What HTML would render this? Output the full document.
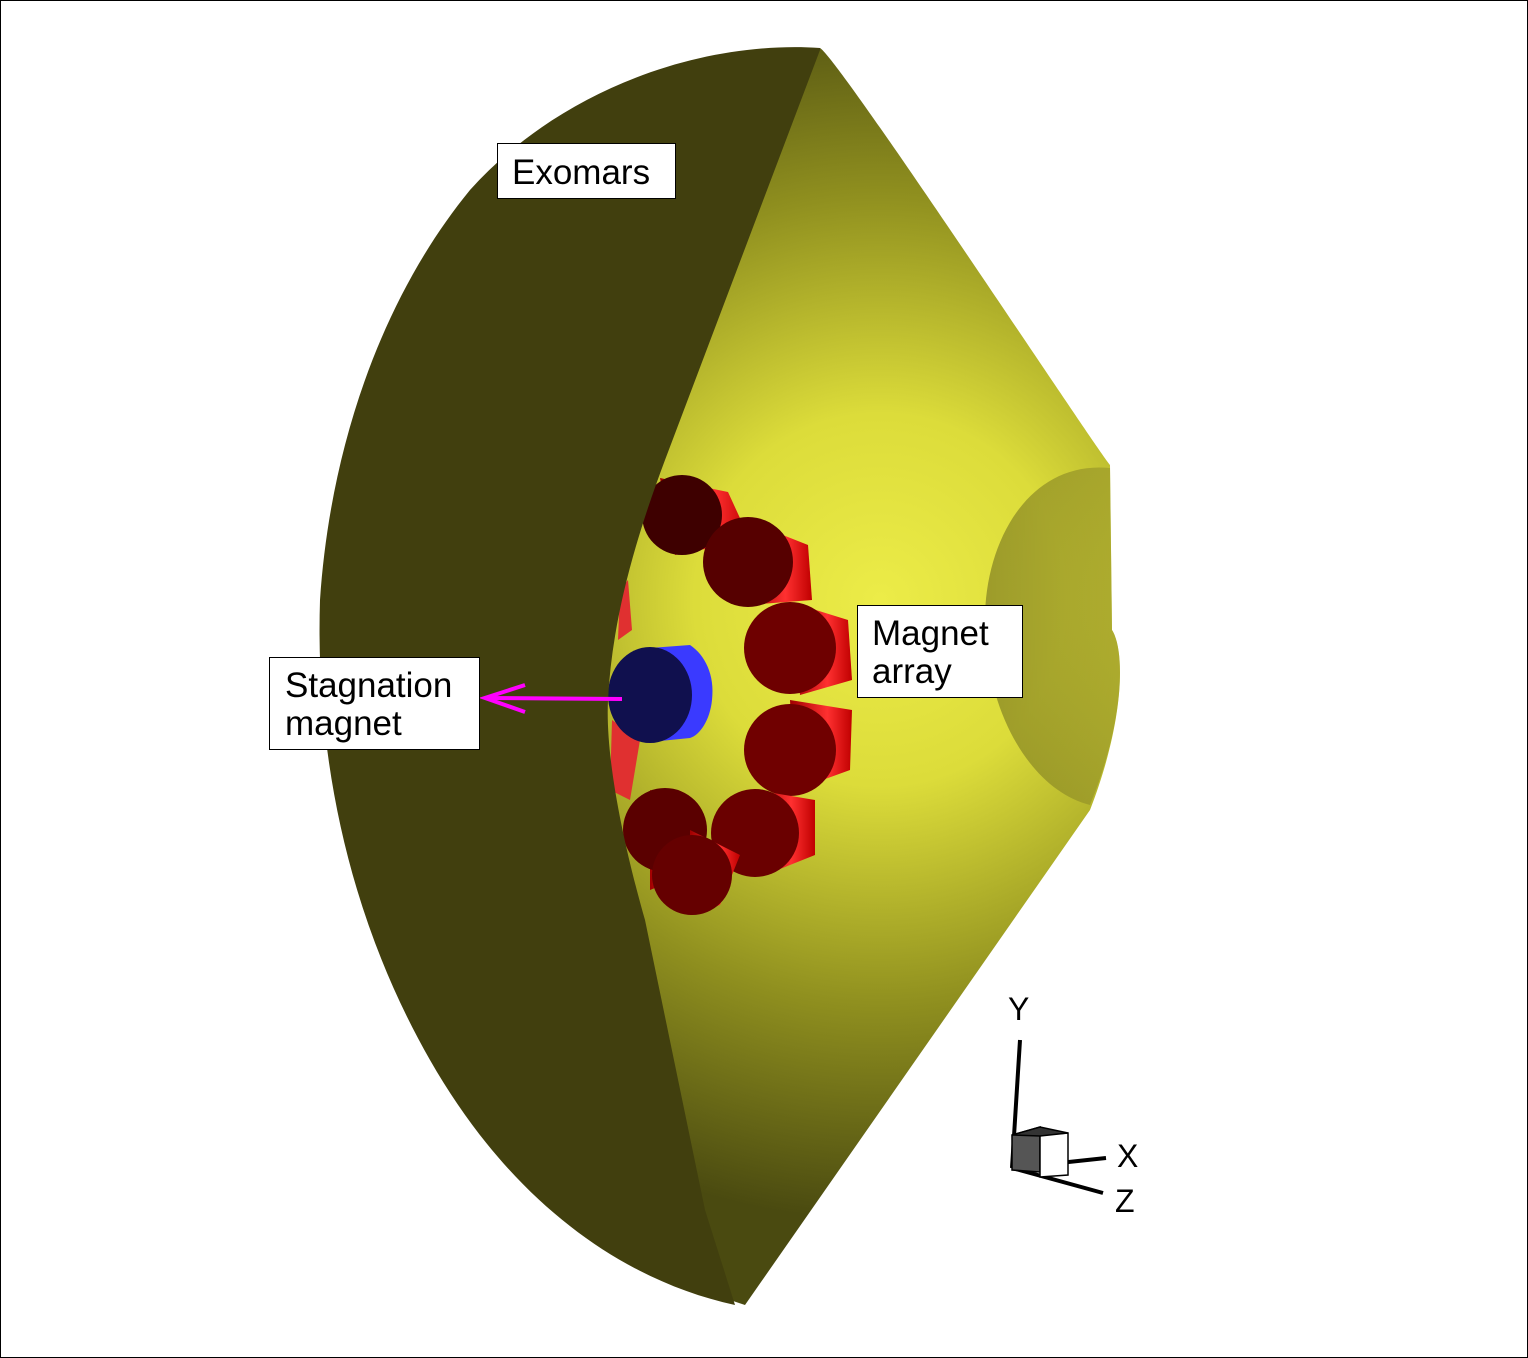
<!DOCTYPE html>
<html><head><meta charset="utf-8"><style>
html,body{margin:0;padding:0;background:#fff}
svg{display:block}
text{font-family:"Liberation Sans",sans-serif;fill:#000}
</style></head><body>
<svg width="1528" height="1358" viewBox="0 0 1528 1358">
<defs>
<radialGradient id="cone" cx="880" cy="600" r="620" gradientUnits="userSpaceOnUse">
<stop offset="0" stop-color="#ecec48"/>
<stop offset="0.3" stop-color="#dcdc3a"/>
<stop offset="0.65" stop-color="#90901f"/>
<stop offset="1" stop-color="#4a4a10"/>
</radialGradient>
<linearGradient id="disk" x1="0" y1="0" x2="1" y2="0">
<stop offset="0" stop-color="#6e6c1c"/>
<stop offset="1" stop-color="#9a982a"/>
</linearGradient>
<linearGradient id="redside" x1="0" y1="0" x2="1" y2="0">
<stop offset="0" stop-color="#a00000"/>
<stop offset="0.6" stop-color="#ff3030"/>
<stop offset="1" stop-color="#c00000"/>
</linearGradient>
</defs>
<rect x="0.5" y="0.5" width="1527" height="1357" fill="#fff" stroke="#000"/>
<path d="M820,48 C840,60 1090,440 1110,465 L1112,630 C1125,650 1125,720 1090,810 L745,1305 L700,1290 L600,900 L590,560 L760,60 Z" fill="url(#cone)"/>
<path d="M1110,468 C1030,460 985,540 985,620 C985,710 1030,790 1090,805 C1125,720 1125,650 1112,630 Z" fill="url(#disk)" opacity="0.6"/>
<g>
<g><path d="M660,478 L728,492 L750,540 L675,555 Z" fill="url(#redside)"/><circle cx="682" cy="515" r="40" fill="#3e0000"/></g>
<g><path d="M745,520 L808,545 L812,600 L748,605 Z" fill="url(#redside)"/><circle cx="748" cy="562" r="45" fill="#560000"/></g>
<g><path d="M790,602 L848,620 L852,680 L800,695 Z" fill="url(#redside)"/><circle cx="790" cy="648" r="46" fill="#6e0000"/></g>
<g><path d="M790,700 L852,710 L850,770 L795,790 Z" fill="url(#redside)"/><circle cx="790" cy="750" r="46" fill="#700000"/></g>
<g><path d="M755,790 L815,800 L815,855 L765,875 Z" fill="url(#redside)"/><circle cx="755" cy="833" r="44" fill="#6a0000"/></g>
<g><path d="M650,790 L700,810 L700,870 L650,890 Z" fill="url(#redside)"/><circle cx="665" cy="830" r="42" fill="#5a0000"/></g>
<g><path d="M690,830 L740,855 L720,905 L690,915 Z" fill="url(#redside)"/><circle cx="692" cy="875" r="40" fill="#650000"/></g>
<path d="M612,720 L640,740 L630,800 L610,790 Z" fill="#e03030"/>
<path d="M628,580 L632,630 L618,640 L620,590 Z" fill="#e03030"/>
</g>
<g>
<path d="M650,648 L690,645 C705,655 715,675 712,700 C710,720 700,735 690,738 L650,742 Z" fill="#3a3aff"/>
<ellipse cx="650" cy="695" rx="42" ry="48" fill="#10104e"/>
</g>
<path d="M820,48 C700,40 560,90 470,190 C380,300 330,450 320,600 C315,760 350,920 430,1060 C510,1200 620,1280 735,1305 L705,1210 L645,920 C625,850 605,760 608,700 C612,620 635,540 665,460 L820,50 Z" fill="#413f0e"/>
<g stroke="#ff00ff" stroke-width="4" fill="none">
<line x1="622" y1="699" x2="485" y2="698"/>
<polyline points="525,685 485,698 525,712"/>
</g>
<g>
<rect x="497.5" y="143.5" width="178" height="55" fill="#fff" stroke="#000"/>
<text x="512" y="184" font-size="35">Exomars</text>
</g>
<g>
<rect x="857.5" y="605.5" width="165" height="92" fill="#fff" stroke="#000"/>
<text x="872" y="645" font-size="35">Magnet</text>
<text x="872" y="683" font-size="35">array</text>
</g>
<g>
<rect x="269.5" y="657.5" width="210" height="92" fill="#fff" stroke="#000"/>
<text x="285" y="697" font-size="35">Stagnation</text>
<text x="285" y="735" font-size="35">magnet</text>
</g>
<g stroke="#000" stroke-width="4">
<line x1="1020" y1="1040" x2="1012" y2="1168"/>
<line x1="1012" y1="1168" x2="1106" y2="1158"/>
<line x1="1012" y1="1168" x2="1103" y2="1193"/>
<polygon points="1012,1135 1040,1127 1040,1172 1012,1170" fill="#555" stroke-width="1.5"/>
<polygon points="1040,1135 1068,1133 1068,1175 1040,1177" fill="#fff" stroke-width="1.5"/>
<polygon points="1012,1135 1040,1127 1068,1133 1040,1136" fill="#333" stroke-width="1.5"/>
</g>
<text x="1008" y="1020" font-size="32">Y</text>
<text x="1117" y="1167" font-size="32">X</text>
<text x="1115" y="1212" font-size="32">Z</text>
</svg>
</body></html>
